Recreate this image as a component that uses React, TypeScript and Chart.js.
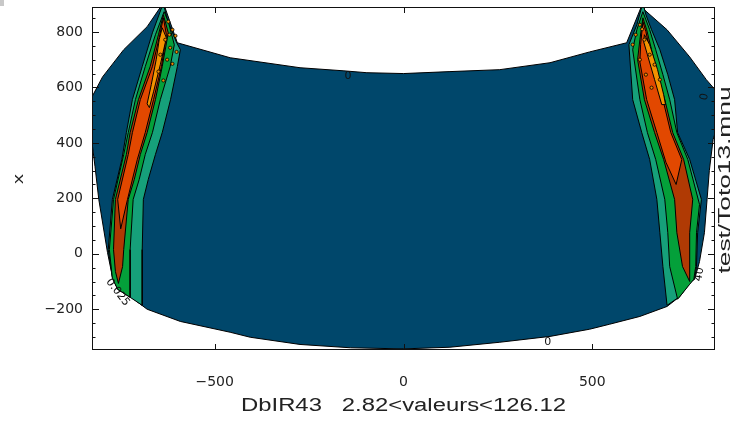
import React, { useEffect, useRef } from 'react';
import { Chart, registerables } from 'chart.js';

Chart.register(...registerables);

type P = [number, number];

// ---- axes ----
const xRange: P = [-825, 825];
const yRange: P = [-347, 890];
const xTickValues = [-500, 0, 500];
const yTickValues = [-200, 0, 200, 400, 600, 800];
const yMinorTickValues = [-300, -250, -150, -100, -50, 50, 100, 150, 250, 300, 350, 450, 500, 550, 650, 700, 750, 850];

// ---- texts ----
const xAxisTitle = 'DbIR43   2.82<valeurs<126.12';
const yAxisTitle = 'x';
const rightTitle = 'test/Toto13.mnu';

// ---- contour regions (data units) ----
const outerRegion: P[] = [
  [-636, 905], [-599, 761], [-459, 707], [-274, 671], [-160, 660], [-97, 653], [0, 650], [123, 657],
  [255, 664], [388, 689], [493, 728], [591, 761], [634, 905],
  [638, 880], [698, 808], [758, 710], [802, 628], [825, 592], [845, 570], [835, 480], [820, 412],
  [810, 300], [804, 196], [797, 76], [784, -28], [771, -92], [758, -103], [732, -154], [698, -190],
  [626, -226], [546, -254], [493, -272], [388, -298], [255, -319], [123, -337], [0, -343],
  [-140, -339], [-274, -327], [-406, -301], [-459, -283], [-591, -244], [-679, -200], [-724, -154],
  [-757, -128], [-771, -82], [-784, 5], [-807, 196], [-817, 314], [-825, 401], [-845, 420],
  [-845, 570], [-825, 566], [-797, 638], [-741, 736], [-679, 819], [-636, 905],
];

const leftTeal: P[] = [
  [-636, 905], [-626, 844], [-602, 765], [-591, 736], [-599, 675], [-617, 556], [-639, 437],
  [-657, 358], [-676, 268], [-689, 196], [-692, 15], [-692, -186], [-724, -157], [-757, -128],
  [-771, -85], [-782, 15], [-771, 196], [-746, 340], [-734, 437], [-718, 556], [-692, 675],
  [-665, 797], [-636, 905],
];
const leftGreen: P[] = [
  [-634, 873], [-623, 837], [-607, 754], [-618, 675], [-644, 556], [-665, 437], [-684, 358],
  [-700, 268], [-716, 196], [-724, 15], [-724, -157], [-757, -128], [-771, -89], [-779, 15],
  [-768, 196], [-741, 358], [-729, 437], [-710, 556], [-684, 675], [-657, 790], [-634, 873],
];
const leftRed: P[] = [
  [-636, 862], [-623, 797], [-639, 675], [-657, 556], [-679, 437], [-697, 358], [-713, 268],
  [-729, 196], [-741, 15], [-744, -46], [-755, -107], [-763, -64], [-768, 15], [-763, 196],
  [-734, 358], [-724, 437], [-702, 556], [-671, 675], [-649, 790], [-636, 862],
];
const leftOrangeRed: P[] = [
  [-636, 851], [-628, 790], [-641, 675], [-662, 556], [-684, 437], [-705, 340], [-731, 196],
  [-749, 90], [-757, 196], [-729, 358], [-718, 437], [-697, 556], [-665, 675], [-647, 779], [-636, 851],
];
const leftOrange: P[] = [
  [-639, 815], [-628, 779], [-644, 682], [-662, 584], [-673, 527], [-679, 541], [-668, 610],
  [-655, 700], [-647, 772], [-639, 815],
];

const rightTeal: P[] = [
  [634, 905], [618, 826], [597, 754], [607, 556], [631, 437], [652, 340], [671, 196], [679, 76],
  [687, -46], [698, -186], [732, -154], [758, -107], [771, -89], [776, -46], [779, 76], [789, 196],
  [758, 340], [726, 437], [718, 556], [700, 646], [679, 736], [657, 808], [642, 862], [634, 905],
];
const rightGreen: P[] = [
  [634, 873], [618, 808], [607, 736], [626, 556], [646, 437], [668, 340], [692, 196], [700, 76],
  [705, -46], [726, -164], [758, -110], [769, -92], [774, -46], [776, 76], [784, 178], [753, 340],
  [724, 437], [705, 556], [687, 646], [668, 736], [652, 808], [634, 873],
];
const rightRed: P[] = [
  [634, 851], [626, 772], [620, 700], [638, 556], [665, 437], [689, 340], [718, 196], [724, 76],
  [739, -46], [758, -100], [758, -46], [758, 76], [766, 196], [742, 340], [713, 437], [692, 556],
  [673, 646], [657, 736], [644, 808], [634, 851],
];
const rightOrangeRed: P[] = [
  [634, 837], [628, 754], [626, 692], [644, 556], [671, 437], [695, 330], [722, 250], [737, 340],
  [708, 437], [687, 556], [668, 646], [652, 736], [642, 801], [634, 837],
];
const rightOrange: P[] = [
  [638, 790], [652, 754], [673, 664], [689, 574], [694, 538], [684, 538], [665, 628], [646, 718],
  [636, 765], [638, 790],
];

// noisy small contour rings near the peaks
const peakDots: P[] = [
  [-623, 837], [-612, 808], [-604, 786], [-631, 772], [-618, 743], [-601, 728], [-644, 718],
  [-626, 700], [-612, 685], [-649, 657], [-636, 625], [-620, 790],
  [626, 826], [615, 790], [638, 772], [607, 754], [652, 718], [626, 700], [665, 682], [642, 646],
  [679, 628], [657, 599], [632, 810],
];

// contour labels: text, x, y, angle(deg)
const labelTexts = ['0', '0', '0', '0.025', '40'];
const labelX = [-147, 382, 797, -757, 784];
const labelY = [642, -319, 566, -139, -74];
const labelAngle = [0, 0, -80, 52, -80];

const BLUE = '#00476b';
const TEAL = '#16a07a';
const GREEN = '#04a03a';
const DARKRED = '#b03a04';
const ORANGERED = '#e24800';
const ORANGE = '#f39200';

const layers: { pts: P[]; color: string }[] = [
  { pts: outerRegion, color: BLUE },
  { pts: leftTeal, color: TEAL },
  { pts: leftGreen, color: GREEN },
  { pts: leftRed, color: DARKRED },
  { pts: leftOrangeRed, color: ORANGERED },
  { pts: leftOrange, color: ORANGE },
  { pts: rightTeal, color: TEAL },
  { pts: rightGreen, color: GREEN },
  { pts: rightRed, color: DARKRED },
  { pts: rightOrangeRed, color: ORANGERED },
  { pts: rightOrange, color: ORANGE },
];

const fmt = (v: number) => (v < 0 ? '\u2212' + Math.abs(v) : String(v));

function fitText(ctx: CanvasRenderingContext2D, text: string, cx: number, cy: number, width: number, font: string, rot: number) {
  ctx.save();
  ctx.font = font;
  const w = ctx.measureText(text).width;
  ctx.translate(cx, cy);
  ctx.rotate(rot);
  ctx.scale(width / w, 1);
  ctx.textAlign = 'center';
  ctx.textBaseline = 'middle';
  ctx.fillText(text, 0, 0);
  ctx.restore();
}

const decorPlugin = {
  id: 'decor',
  afterDraw(chart: any) {
    const { ctx, chartArea: a, scales } = chart;
    const xs = scales.x;
    const ys = scales.y;
    ctx.save();
    ctx.strokeStyle = '#111';
    ctx.lineWidth = 1;
    ctx.strokeRect(a.left + 0.5, a.top + 0.5, a.right - a.left - 1, a.bottom - a.top - 1);
    ctx.beginPath();
    for (const v of xTickValues) {
      const px = Math.round(xs.getPixelForValue(v)) + 0.5;
      ctx.moveTo(px, a.bottom); ctx.lineTo(px, a.bottom - 6);
      ctx.moveTo(px, a.top); ctx.lineTo(px, a.top + 6);
    }
    for (const v of yTickValues) {
      const py = Math.round(ys.getPixelForValue(v)) + 0.5;
      ctx.moveTo(a.left, py); ctx.lineTo(a.left + 7, py);
      ctx.moveTo(a.right, py); ctx.lineTo(a.right - 7, py);
    }
    for (const v of yMinorTickValues) {
      const py = Math.round(ys.getPixelForValue(v)) + 0.5;
      ctx.moveTo(a.left, py); ctx.lineTo(a.left + 3.5, py);
      ctx.moveTo(a.right, py); ctx.lineTo(a.right - 3.5, py);
    }
    ctx.stroke();

    // contour labels
    ctx.fillStyle = '#111';
    ctx.font = '11px "DejaVu Sans"';
    ctx.textAlign = 'center';
    ctx.textBaseline = 'middle';
    for (let i = 0; i < labelTexts.length; i++) {
      ctx.save();
      ctx.translate(xs.getPixelForValue(labelX[i]), ys.getPixelForValue(labelY[i]));
      ctx.rotate((labelAngle[i] * Math.PI) / 180);
      ctx.fillText(labelTexts[i], 0, 0);
      ctx.restore();
    }

    // titles
    ctx.fillStyle = '#222';
    const cx = (a.left + a.right) / 2;
    fitText(ctx, xAxisTitle, cx, 406, 325, '18px "Liberation Sans"', 0);
    fitText(ctx, rightTitle, 726, 180, 187, '16px "Liberation Sans"', -Math.PI / 2);
    fitText(ctx, yAxisTitle, 19, 179, 10, '15px "Liberation Sans"', -Math.PI / 2);

    ctx.fillStyle = '#c8c8c8';
    ctx.fillRect(0, 0, 4, 6);
    ctx.restore();
  },
};

export default function App() {
  const ref = useRef<HTMLCanvasElement | null>(null);
  useEffect(() => {
    if (!ref.current) return;
    const n = layers.length;
    const datasets: any[] = layers.map((l, i) => ({
      data: l.pts.map(([x, y]) => ({ x, y })),
      backgroundColor: l.color,
      borderColor: '#000',
      borderWidth: 1,
      fill: 'shape',
      pointRadius: 0,
      tension: 0,
      order: n + 1 - i,
    }));
    datasets.push({
      data: peakDots.map(([x, y]) => ({ x, y })),
      showLine: false,
      pointRadius: 1.6,
      pointBackgroundColor: '#f08a00',
      pointBorderColor: '#000',
      pointBorderWidth: 0.8,
      fill: false,
      order: 0,
    });
    const tickFont = { family: '"DejaVu Sans"', size: 14 };
    const chart = new Chart(ref.current, {
      type: 'line',
      data: { datasets },
      options: {
        animation: false,
        responsive: false,
        devicePixelRatio: 1,
        layout: { padding: { left: 0, right: 23, top: 7, bottom: 0 } },
        plugins: { legend: { display: false }, tooltip: { enabled: false } },
        scales: {
          x: {
            type: 'linear',
            min: xRange[0],
            max: xRange[1],
            grid: { display: false, drawTicks: false },
            border: { display: false },
            ticks: { padding: 24, font: tickFont, color: '#222', autoSkip: false, maxRotation: 0, callback: (v: any) => fmt(Number(v)) },
            afterBuildTicks: (s: any) => { s.ticks = xTickValues.map((v) => ({ value: v })); },
            afterFit: (s: any) => { s.height = 71; s.paddingLeft = 0; s.paddingRight = 0; s.paddingTop = 0; s.paddingBottom = 0; },
          },
          y: {
            type: 'linear',
            min: yRange[0],
            max: yRange[1],
            grid: { display: false, drawTicks: false },
            border: { display: false },
            ticks: { padding: 9, font: tickFont, color: '#222', autoSkip: false, callback: (v: any) => fmt(Number(v)) },
            afterBuildTicks: (s: any) => { s.ticks = yTickValues.map((v) => ({ value: v })); },
            afterFit: (s: any) => { s.width = 92; s.paddingLeft = 0; s.paddingRight = 0; s.paddingTop = 0; s.paddingBottom = 0; },
          },
        },
      } as any,
      plugins: [decorPlugin],
    });
    return () => chart.destroy();
  }, []);
  return (
    <div style={{ position: 'fixed', left: 0, top: 0, width: 738, height: 421, background: '#fff' }}>
      <canvas ref={ref} width={738} height={421} />
    </div>
  );
}
